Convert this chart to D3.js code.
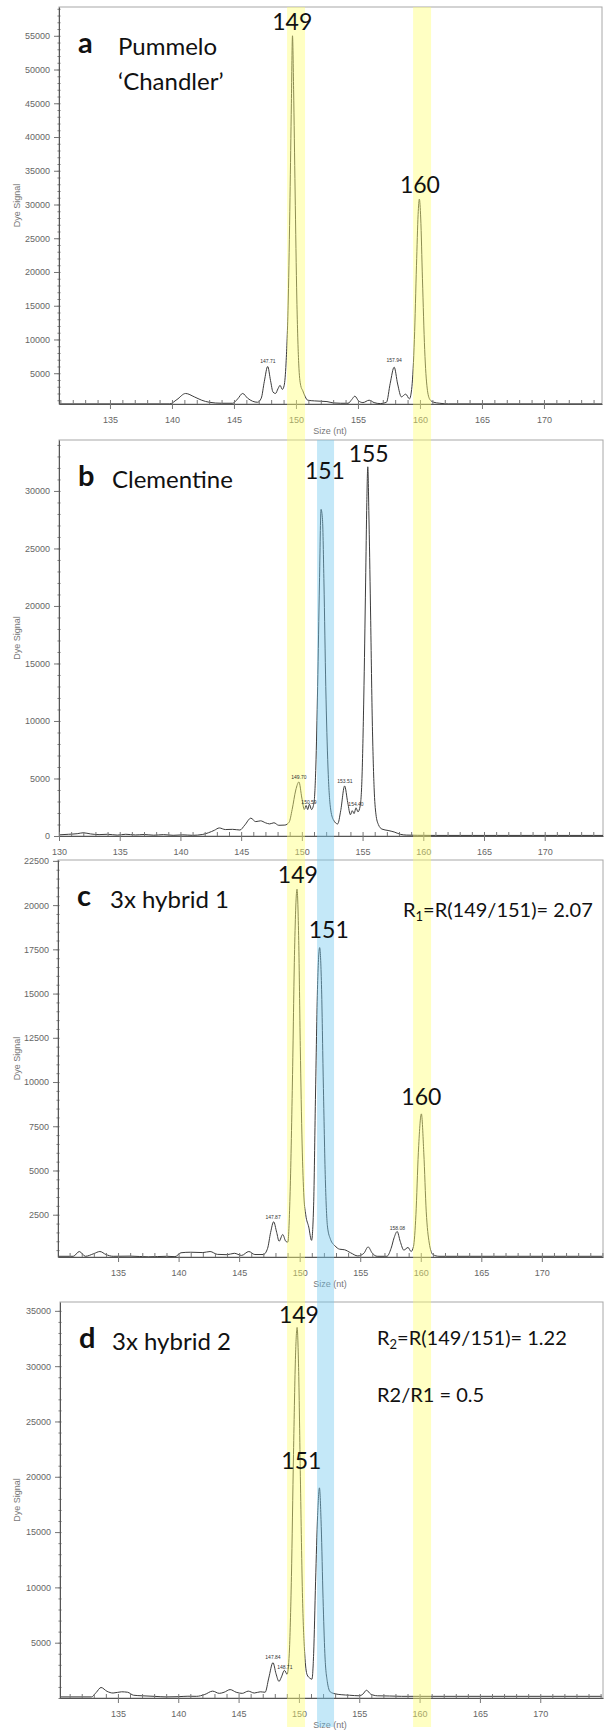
<!DOCTYPE html>
<html>
<head>
<meta charset="utf-8">
<script src="https://cdn.jsdelivr.net/npm/d3@7"></script>
<style>
  body { margin: 0; background: #fff; }
  svg { display: block; }
  .tick text { font-family: "Liberation Sans", Arial, sans-serif; font-size: 9px; fill: #666; }
  .domain { stroke: #555; }
  .tick line { stroke: #777; }
  .axis-title { font-family: "Liberation Sans", Arial, sans-serif; font-size: 9px; fill: #777; }
  .called { font-family: "Liberation Sans", Arial, sans-serif; font-size: 5px; fill: #333; text-anchor: middle; }
  .allele { font-family: Lato, "Noto Sans", sans-serif; font-size: 23px; fill: #111; text-anchor: middle; }
  .letter { font-family: Lato, "Noto Sans", sans-serif; font-size: 29px; font-weight: bold; fill: #111; }
  .name { font-family: Lato, "Noto Sans", sans-serif; font-size: 24px; fill: #111; }
  .ratio { font-family: Lato, "Noto Sans", sans-serif; font-size: 20px; fill: #111; }
</style>
</head>
<body>
<svg id="fig" width="606" height="1730"></svg>
<script>
// tick labels
let size_ticks = [135, 140, 145, 150, 155, 160, 165, 170];
let size_ticks_b = [130, 135, 140, 145, 150, 155, 160, 165, 170];
let signal_ticks_a = [5000, 10000, 15000, 20000, 25000, 30000, 35000, 40000, 45000, 50000, 55000];
let signal_ticks_b = [0, 5000, 10000, 15000, 20000, 25000, 30000];
let signal_ticks_c = [2500, 5000, 7500, 10000, 12500, 15000, 17500, 20000, 22500];
let signal_ticks_d = [5000, 10000, 15000, 20000, 25000, 30000, 35000];

// traces: [size (nt), dye signal]
let trace_a = [
    [130.9, 450], [135.0, 450], [139.8, 450], [140.4, 1100], [141.1, 2000], [141.8, 1500], [142.4, 1000],
    [143.0, 700], [144.0, 550], [144.9, 550], [145.3, 1200], [145.7, 2000], [146.1, 1300], [146.5, 850],
    [146.9, 700], [147.2, 1300], [147.45, 3800], [147.72, 6000], [147.95, 3900], [148.15, 2200], [148.35, 2000],
    [148.55, 2700], [148.72, 3200], [148.9, 2600], [149.05, 3200], [149.2, 6500], [149.38, 16000], [149.52, 31000],
    [149.63, 45000], [149.72, 55000], [149.81, 47000], [149.93, 32000], [150.07, 16000], [150.22, 6500],
    [150.38, 3200], [150.55, 2400], [150.75, 1500], [150.95, 1000], [151.5, 900], [152.0, 850], [152.5, 800],
    [153.0, 600], [153.6, 550], [154.2, 550], [154.5, 1100], [154.75, 1600], [155.05, 900], [155.4, 650],
    [155.9, 1000], [156.3, 650], [156.8, 500], [157.3, 700], [157.6, 3500], [157.92, 5900], [158.2, 3400],
    [158.5, 1500], [158.85, 1900], [159.15, 1200], [159.35, 3000], [159.55, 10000], [159.72, 21000],
    [159.85, 28500], [159.95, 30800], [160.06, 28000], [160.2, 19000], [160.38, 8500], [160.58, 2800],
    [160.8, 1100], [161.1, 700], [161.6, 550], [162.3, 450], [174.7, 450]
];
let trace_b = [
    [130.0, 100], [130.8, 150], [131.5, 200], [132.0, 280], [132.6, 180], [133.3, 120], [134.0, 150],
    [134.8, 80], [135.5, 150], [136.3, 90], [137.0, 130], [137.8, 70], [138.6, 120], [139.4, 60], [140.2, 100],
    [141.0, 60], [141.8, 130], [142.3, 280], [142.8, 500], [143.2, 700], [143.7, 560], [144.3, 580], [144.9, 520],
    [145.3, 950], [145.8, 1550], [146.2, 1250], [146.6, 1320], [147.0, 1150], [147.35, 1050], [147.7, 1150],
    [148.1, 930], [148.6, 950], [148.95, 1200], [149.2, 2300], [149.5, 4000], [149.76, 4700], [150.0, 3300],
    [150.2, 2300], [150.35, 2650], [150.48, 2300], [150.62, 2750], [150.8, 2300], [151.0, 2900], [151.15, 6000],
    [151.3, 13000], [151.45, 22000], [151.58, 28400], [151.7, 27500], [151.82, 22000], [151.97, 13000],
    [152.15, 6000], [152.35, 2500], [152.6, 1400], [152.95, 1050], [153.2, 2200], [153.52, 4350], [153.78, 2900],
    [154.0, 1850], [154.15, 2200], [154.3, 1950], [154.46, 2450], [154.62, 2100], [154.8, 2600], [154.95, 5000],
    [155.1, 12000], [155.25, 22000], [155.35, 29000], [155.43, 32100], [155.52, 28000], [155.65, 20000],
    [155.8, 10000], [155.95, 4200], [156.1, 1900], [156.3, 1000], [156.6, 600], [157.1, 480], [157.6, 350],
    [158.1, 150], [158.6, 80], [159.5, 60], [161.0, 50], [174.8, 50]
];
let trace_c = [
    [130.04, 150], [131.3, 150], [131.8, 420], [132.3, 150], [133.0, 300], [133.5, 420], [134.0, 250],
    [134.6, 150], [136.0, 160], [137.5, 120], [139.0, 150], [139.7, 130], [140.2, 350], [141.0, 380],
    [142.0, 360], [142.6, 420], [143.2, 260], [144.0, 240], [144.6, 320], [145.2, 200], [145.8, 420],
    [146.3, 250], [147.0, 250], [147.35, 600], [147.6, 1500], [147.85, 2100], [148.1, 1500], [148.3, 1000],
    [148.6, 1380], [148.85, 1000], [149.02, 950], [149.2, 3500], [149.4, 10000], [149.58, 17500],
    [149.78, 20900], [149.92, 18000], [150.05, 12000], [150.2, 6500], [150.35, 3500], [150.5, 2500],
    [150.75, 1800], [150.98, 1050], [151.15, 3000], [151.3, 9000], [151.48, 15500], [151.65, 17600],
    [151.8, 15500], [151.95, 10000], [152.12, 4500], [152.3, 1800], [152.55, 1100], [152.9, 750], [153.3, 550],
    [153.7, 520], [154.2, 350], [154.8, 170], [155.3, 320], [155.65, 680], [156.0, 320], [156.4, 150],
    [157.2, 150], [157.55, 600], [157.8, 1200], [158.05, 1550], [158.3, 1000], [158.6, 500], [158.95, 650],
    [159.2, 420], [159.4, 700], [159.6, 2500], [159.8, 6000], [160.05, 8200], [160.25, 6000], [160.45, 2700],
    [160.7, 900], [161.0, 250], [161.5, 150], [175.0, 150]
];
let trace_d = [
    [130.2, 100], [132.8, 100], [133.2, 500], [133.6, 950], [134.1, 600], [134.6, 450], [135.3, 560],
    [135.8, 520], [136.3, 250], [137.0, 200], [138.0, 150], [139.0, 100], [140.0, 120], [140.8, 160],
    [141.5, 150], [142.2, 320], [142.85, 620], [143.4, 420], [143.8, 520], [144.3, 760], [144.8, 520],
    [145.3, 420], [145.8, 620], [146.3, 450], [146.8, 560], [147.2, 520], [147.5, 1800], [147.85, 3200],
    [148.1, 2200], [148.35, 1500], [148.55, 1900], [148.8, 2500], [149.02, 2150], [149.2, 4000],
    [149.38, 11000], [149.55, 22000], [149.72, 31000], [149.85, 33500], [149.98, 29500], [150.12, 20000],
    [150.3, 9000], [150.48, 4000], [150.68, 2100], [150.9, 1800], [151.08, 1700], [151.22, 4000],
    [151.38, 10500], [151.55, 16500], [151.7, 19000], [151.85, 15500], [152.0, 9000], [152.15, 4000],
    [152.35, 1500], [152.6, 550], [153.0, 380], [153.5, 300], [154.2, 250], [155.0, 200], [155.3, 350],
    [155.6, 700], [155.95, 350], [156.5, 200], [157.5, 180], [158.5, 150], [160.0, 150], [175.1, 150]
];

// sizes called by the software: [size, signal, text]
let called_a = [[147.74, 6500, "147.71"], [157.92, 6650, "157.94"]];
let called_b = [[149.76, 4950, "149.70"], [150.59, 2800, "150.59"], [153.55, 4600, "153.51"], [154.46, 2600, "154.40"]];
let called_c = [[147.8, 2250, "147.87"], [158.07, 1650, "158.08"]];
let called_d = [[147.85, 3500, "147.84"], [148.83, 2600, "148.71"]];

// allele labels: [size, signal, text]
let alleles_a = [[149.7, 55900, "149"], [160.0, 31700, "160"]];
let alleles_b = [[151.9, 31000, "151"], [155.5, 32500, "155"]];
let alleles_c = [[149.85, 21250, "149"], [152.4, 18150, "151"], [160.05, 8700, "160"]];
let alleles_d = [[150.0, 33900, "149"], [150.2, 20700, "151"]];

// highlighted size windows (nt)
let bands_yellow = [[148.78, 150.26], [159.16, 160.64]];
let bands_blue = [[151.25, 152.65]];

let svg = d3.select('#fig');

let panels = [
    { left: 59, right: 602, top: 7, bottom: 404, xdom: [130.89, 174.68], ydom: [440, 59265],
      xticks: size_ticks, yticks: signal_ticks_a, minor: 1000, trace: trace_a, called: called_a, alleles: alleles_a, title: true },
    { left: 59, right: 603, top: 440, bottom: 836, xdom: [130, 174.8], ydom: [0, 34430],
      xticks: size_ticks_b, yticks: signal_ticks_b, minor: 1000, trace: trace_b, called: called_b, alleles: alleles_b, title: false },
    { left: 58, right: 603, top: 860, bottom: 1257, xdom: [130.04, 175.05], ydom: [110, 22550],
      xticks: size_ticks, yticks: signal_ticks_c, minor: 500, trace: trace_c, called: called_c, alleles: alleles_c, title: true },
    { left: 60, right: 603, top: 1302, bottom: 1698, xdom: [130.2, 175.2], ydom: [0, 35800],
      xticks: size_ticks, yticks: signal_ticks_d, minor: 1000, trace: trace_d, called: called_d, alleles: alleles_d, title: true }
];

function draw_panel(p, i) {
    let g = svg.append('g');
    let x = d3.scaleLinear(p.xdom, [p.left, p.right]);
    let y = d3.scaleLinear(p.ydom, [p.bottom, p.top]);
    p.x = x; p.y = y;

    // 外框
    g.append('rect')
        .attr('x', p.left).attr('y', p.top)
        .attr('width', p.right - p.left).attr('height', p.bottom - p.top)
        .attr('fill', 'none').attr('stroke', '#a8a8a8');

    // trace
    g.append('clipPath').attr('id', 'clip' + i)
        .append('rect').attr('x', p.left).attr('y', p.top)
        .attr('width', p.right - p.left).attr('height', p.bottom - p.top);
    g.append('path')
        .datum(p.trace)
        .attr('clip-path', `url(#clip${i})`)
        .attr('fill', 'none')
        .attr('stroke', '#3c3c3c')
        .attr('stroke-width', 1)
        .attr('d', d3.line().x(d => x(d[0])).y(d => y(d[1])).curve(d3.curveMonotoneX));

    // y axis: minor ticks straddle the line, majors stick out
    let yMinor = d3.range(Math.ceil(p.ydom[0] / p.minor) * p.minor, p.ydom[1], p.minor);
    g.append('g')
        .attr('transform', `translate(${p.left + 1.5},0)`)
        .call(d3.axisLeft(y).tickValues(yMinor).tickSize(3).tickFormat(''))
        .call(a => a.select('.domain').remove());
    g.append('g')
        .attr('transform', `translate(${p.left},0)`)
        .call(d3.axisLeft(y).tickValues(p.yticks).tickSize(5).tickPadding(4).tickSizeOuter(0).tickFormat(d3.format('d')));

    // x axis: every nt ticked upward, labelled majors cross the line
    let xMinor = d3.range(Math.ceil(p.xdom[0]), p.xdom[1], 1);
    g.append('g')
        .attr('transform', `translate(0,${p.bottom})`)
        .call(d3.axisTop(x).tickValues(xMinor).tickSize(4).tickFormat(''))
        .call(a => a.select('.domain').remove());
    g.append('g')
        .attr('transform', `translate(0,${p.bottom})`)
        .call(d3.axisBottom(x).tickValues(p.xticks).tickSize(5).tickPadding(8).tickSizeOuter(0).tickFormat(d3.format('d')));

    g.append('text').attr('class', 'axis-title')
        .attr('transform', `translate(20,${(p.top + p.bottom) / 2}) rotate(-90)`)
        .attr('text-anchor', 'middle')
        .text('Dye Signal');
    if (p.title) {
        g.append('text').attr('class', 'axis-title')
            .attr('x', 330).attr('y', p.bottom + 30)
            .attr('text-anchor', 'middle')
            .text('Size (nt)');
    }
}

panels.forEach(draw_panel);

// 高亮窗口, laid over every panel
let xb = panels[1].x;
let band_bottom = 1727;
svg.append('g').selectAll('rect')
    .data(bands_yellow)
    .join('rect')
    .attr('x', d => xb(d[0])).attr('width', d => xb(d[1]) - xb(d[0]))
    .attr('y', panels[0].top).attr('height', band_bottom - panels[0].top)
    .attr('fill', '#ffff70').attr('fill-opacity', 0.42);
svg.append('g').selectAll('rect')
    .data(bands_blue)
    .join('rect')
    .attr('x', d => xb(d[0])).attr('width', d => xb(d[1]) - xb(d[0]))
    .attr('y', panels[1].top).attr('height', band_bottom - panels[1].top)
    .attr('fill', '#72c8ee').attr('fill-opacity', 0.42);

// labels above the bands
panels.forEach(p => {
    svg.append('g').selectAll('text')
        .data(p.called)
        .join('text').attr('class', 'called')
        .attr('x', d => p.x(d[0])).attr('y', d => p.y(d[1]))
        .text(d => d[2]);
    svg.append('g').selectAll('text')
        .data(p.alleles)
        .join('text').attr('class', 'allele')
        .attr('x', d => p.x(d[0])).attr('y', d => p.y(d[1]))
        .text(d => d[2]);
});

// sample names
function name(p, letter, lines, dx) {
    svg.append('text').attr('class', 'letter')
        .attr('x', p.left + 19).attr('y', p.top + 46).text(letter);
    lines.forEach((t, k) => {
        svg.append('text').attr('class', 'name')
            .attr('x', p.left + dx).attr('y', p.top + 48 + k * 35).text(t);
    });
}
name(panels[0], 'a', ['Pummelo', '\u2018Chandler\u2019'], 59);
name(panels[1], 'b', ['Clementine'], 53);
name(panels[2], 'c', ['3x hybrid 1'], 52);
name(panels[3], 'd', ['3x hybrid 2'], 52);

function ratio(xp, yp, parts) {
    let t = svg.append('text').attr('class', 'ratio').attr('x', xp).attr('y', yp);
    parts.forEach(s => {
        if (s.sub) {
            t.append('tspan').attr('dy', 4).attr('font-size', 13).text(s.sub);
            t.append('tspan').attr('dy', -4).text(s.after);
        } else {
            t.append('tspan').text(s.text);
        }
    });
}
ratio(403, 917, [{ text: 'R' }, { sub: '1', after: '=R(149/151)= 2.07' }]);
ratio(377, 1345, [{ text: 'R' }, { sub: '2', after: '=R(149/151)= 1.22' }]);
ratio(377, 1402, [{ text: 'R2/R1 = 0.5' }]);
</script>
</body>
</html>
